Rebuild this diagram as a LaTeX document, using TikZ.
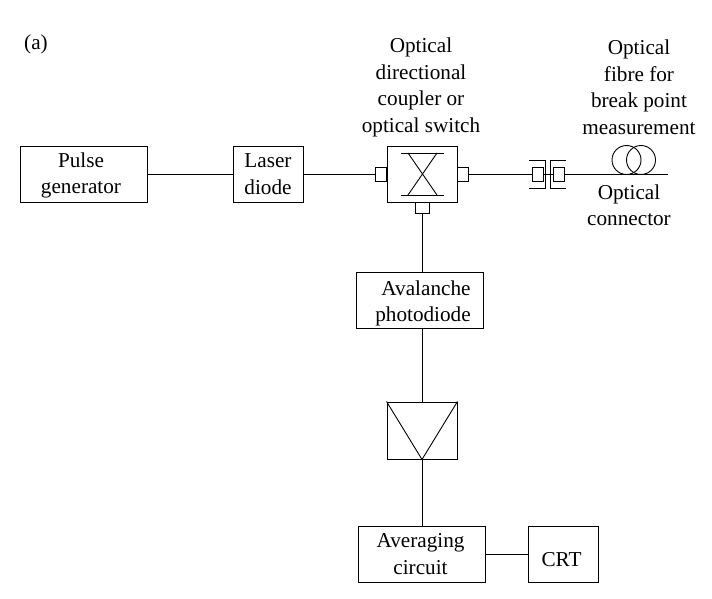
\documentclass[tikz,border=0pt]{standalone}
\usepackage{fontspec}
\setmainfont{Liberation Serif}
\usetikzlibrary{calc}

\newcommand{\lowered}[2]{\raisebox{-#1}[\height][\depth]{\begin{tabular}{@{}c@{}}#2\end{tabular}}}

\tikzset{
	block/.style={draw, inner sep=0pt, align=center, minimum height=56pt},
	port/.style={draw, inner sep=0pt, minimum width=11pt, minimum height=14pt},
	caption/.style={inner sep=0pt, align=center},
}

\begin{document}
\begin{tikzpicture}[x=1pt, y=-1pt, line width=0.9pt, font=\fontsize{21.2}{26.5}\selectfont]
	\def\wide{127pt}
	\def\narrow{70pt}
	\useasboundingbox (0,0) rectangle (712,599);

	\node[block, minimum width=\wide]	(pulse) at (83.5,174) {\lowered{1pt}{\hspace*{-5pt}Pulse\\\hspace*{-5pt}generator}};
	\node[block, minimum width=\narrow]	(laser) at (268,174) {\lowered{1.5pt}{Laser\\diode}};
	\node[block, minimum width=\narrow]	(coupler) at (422,174) {};
	\node[port, anchor=east]	(portl) at (coupler.west) {};
	\node[port, anchor=west]	(portr) at (coupler.east) {};
	\node[port, anchor=north, minimum width=14pt, minimum height=11pt]	(portb) at (coupler.south) {};
	\node[block, minimum width=\wide]	(apd) at (419.5,300) {\lowered{3pt}{\hspace*{13pt}Avalanche\\\hspace*{7pt}photodiode}};
	\node[block, minimum width=\narrow, minimum height=57pt]	(amp) at (422,430.5) {};
	\node[block, minimum width=\wide]	(avg) at (421.5,554) {\lowered{1.5pt}{\hspace*{-2pt}Averaging\\\hspace*{-2pt}circuit}};
	\node[block, minimum width=\narrow]	(crt) at (563,554) {\lowered{7pt}{\hspace*{-3pt}CRT}};

	\node[port]	(connl) at (537.5,174) {};
	\node[port]	(connr) at (558.5,174) {};
	\coordinate (fibreend) at (668,174);

	\draw	(pulse) -- (laser);
	\draw	(laser) -- (portl);
	\draw	(portr) -- (connl);
	\draw	(connl) -- (connr);
	\draw	(connr) -- (fibreend);
	\draw	(portb.south) -- (portb.south |- apd.north);
	\draw	(amp.north) -- (amp.north |- apd.south);
	\draw	(amp.south) -- (amp.south |- avg.north);
	\draw	(avg) -- (crt);

	\draw	(401,153) -- (444,153);
	\draw	(401,195) -- (444,195);
	\draw	(408,153) -- (437,195);
	\draw	(437,153) -- (408,195);

	\draw	(amp.north west) -- (amp.south) -- (amp.north east);

	\draw	(529,160) -- (545,160) -- (545,188) -- (529,188);
	\draw	(566,160) -- (550,160) -- (550,188) -- (566,188);

	\draw	(626.5,160) circle (14.5);
	\draw	(641,160) circle (14.5);

	\node[caption]	(tag) at (36,44) {(a)};
	\node[caption]	(couplertext) at (421,87.5) {Optical\\directional\\coupler or\\optical switch};
	\node[caption]	(fibretext) at (639,87) {Optical\\fibre for\\break point\\measurement};
	\node[caption]	(conntext) at (629,205) {Optical\\connector};
\end{tikzpicture}
\end{document}
